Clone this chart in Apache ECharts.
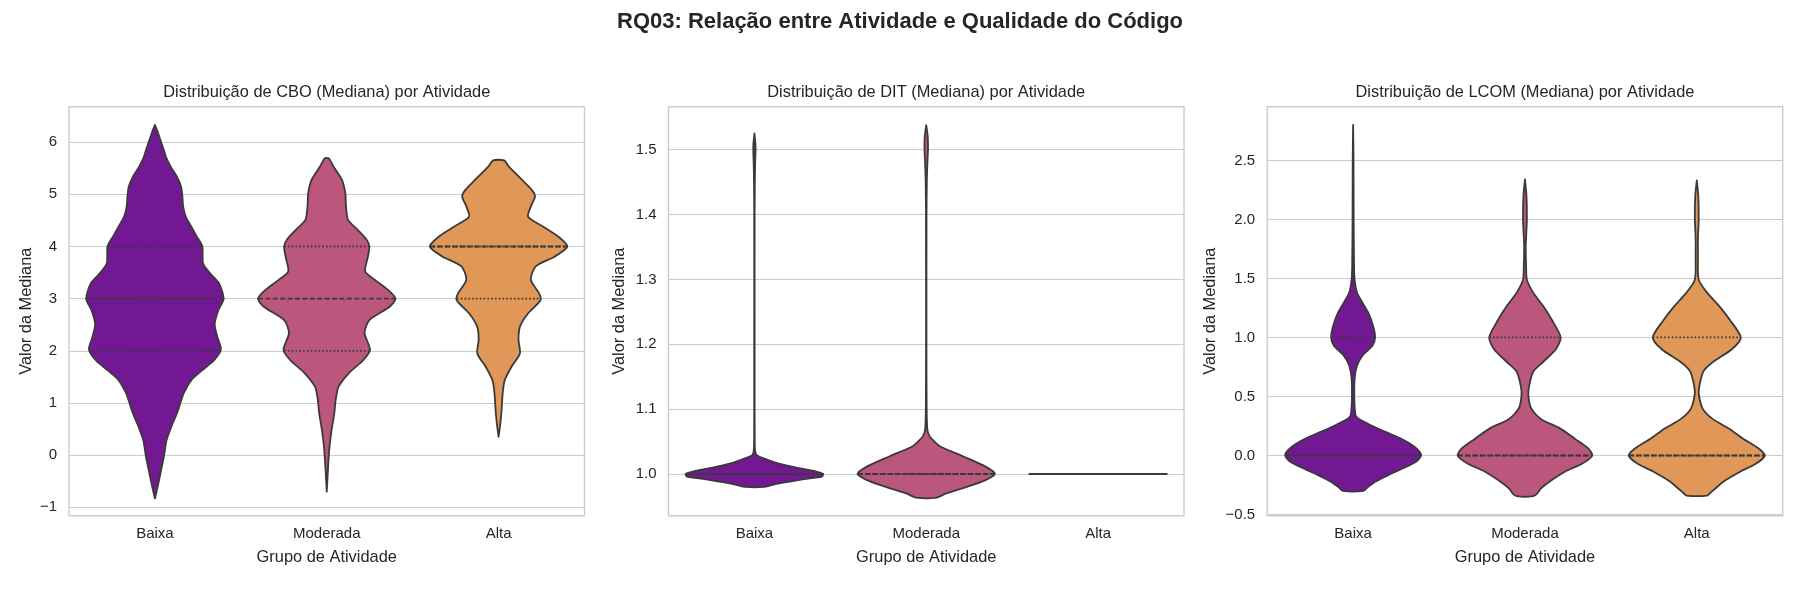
<!DOCTYPE html>
<html>
<head>
<meta charset="utf-8">
<script src="https://cdn.jsdelivr.net/npm/echarts@6/dist/echarts.min.js"></script>
<style>html,body{margin:0;padding:0;background:#fff}#chart{width:1800px;height:600px}</style>
</head>
<body>
<div id="chart"></div>
<script>
// ---------------- DATA ----------------
const categories = ['Baixa', 'Moderada', 'Alta'];
const suptitleText = 'RQ03: Relação entre Atividade e Qualidade do Código';
const panelTitles = [
  'Distribuição de CBO (Mediana) por Atividade',
  'Distribuição de DIT (Mediana) por Atividade',
  'Distribuição de LCOM (Mediana) por Atividade'
];
const xAxisName = 'Grupo de Atividade';
const yAxisName = 'Valor da Mediana';

// Violin outlines: y values (top to bottom) and relative density (1 = widest violin)
const cboBaixaY = [6.33, 6.2, 6.04, 5.85, 5.72, 5.53, 5.34, 5.15, 4.96, 4.77, 4.57, 4.38, 4.19, 4.0, 3.68, 3.49, 3.30, 3.0, 2.77, 2.51, 2.26, 2.03, 1.82, 1.63, 1.44, 1.19, 1.0, 0.80, 0.55, 0.29, -0.03, -0.35, -0.60, -0.83];
const cboBaixaW = [0, 0.04, 0.08, 0.13, 0.16, 0.23, 0.32, 0.38, 0.40, 0.41, 0.45, 0.53, 0.61, 0.69, 0.70, 0.80, 0.93, 1.0, 0.92, 0.87, 0.91, 0.96, 0.86, 0.69, 0.53, 0.42, 0.37, 0.32, 0.24, 0.17, 0.13, 0.08, 0.04, 0];
const cboModeradaY = [5.69, 5.53, 5.28, 5.02, 4.77, 4.51, 4.32, 4.13, 4.0, 3.81, 3.52, 3.36, 3.17, 3.0, 2.85, 2.59, 2.34, 2.02, 1.82, 1.57, 1.31, 1.06, 0.80, 0.48, 0.16, -0.22, -0.70];
const cboModeradaW = [0.03, 0.10, 0.22, 0.27, 0.28, 0.31, 0.45, 0.58, 0.62, 0.60, 0.56, 0.70, 0.89, 1.0, 0.92, 0.62, 0.55, 0.63, 0.53, 0.32, 0.17, 0.13, 0.11, 0.07, 0.04, 0.02, 0];
const cboAltaY = [5.65, 5.53, 5.28, 5.09, 4.96, 4.77, 4.57, 4.38, 4.19, 4.0, 3.81, 3.62, 3.36, 3.10, 2.97, 2.72, 2.46, 2.21, 1.95, 1.70, 1.44, 1.19, 0.80, 0.55, 0.35];
const cboAltaW = [0.08, 0.15, 0.34, 0.48, 0.53, 0.47, 0.43, 0.65, 0.87, 1.0, 0.82, 0.54, 0.47, 0.59, 0.61, 0.43, 0.31, 0.29, 0.31, 0.19, 0.09, 0.06, 0.04, 0.02, 0];

const ditBaixaY = [1.525, 1.51, 1.50, 1.48, 1.45, 1.40, 1.20, 1.06, 1.035, 1.028, 1.022, 1.016, 1.010, 1.005, 1.0, 0.996, 0.992, 0.987, 0.983, 0.980];
const ditBaixaW = [0, 0.014, 0.017, 0.011, 0.006, 0.003, 0.003, 0.004, 0.011, 0.044, 0.19, 0.36, 0.61, 0.86, 1.0, 0.98, 0.72, 0.44, 0.25, 0.14];
const ditModeradaY = [1.538, 1.52, 1.50, 1.48, 1.45, 1.40, 1.20, 1.10, 1.068, 1.058, 1.050, 1.042, 1.027, 1.011, 1.0, 0.991, 0.980, 0.970, 0.9635];
const ditModeradaW = [0, 0.022, 0.025, 0.017, 0.008, 0.004, 0.003, 0.006, 0.017, 0.05, 0.12, 0.21, 0.54, 0.87, 1.0, 0.87, 0.59, 0.29, 0.15];
const ditAltaY = [1.0];
const ditAltaW = [1.0];

const lcomBaixaY = [2.80, 2.5, 2.0, 1.6, 1.49, 1.38, 1.29, 1.21, 1.10, 1.0, 0.93, 0.85, 0.76, 0.65, 0.48, 0.37, 0.33, 0.30, 0.25, 0.20, 0.15, 0.10, 0.05, 0.0, -0.05, -0.11, -0.17, -0.22, -0.27, -0.30];
const lcomBaixaW = [0, 0.006, 0.008, 0.014, 0.022, 0.056, 0.14, 0.22, 0.29, 0.32, 0.28, 0.14, 0.056, 0.022, 0.017, 0.028, 0.044, 0.11, 0.28, 0.47, 0.67, 0.83, 0.94, 0.99, 0.92, 0.72, 0.5, 0.33, 0.21, 0.15];
const lcomModeradaY = [2.34, 2.2, 2.0, 1.85, 1.77, 1.60, 1.49, 1.38, 1.27, 1.15, 1.0, 0.90, 0.79, 0.71, 0.59, 0.51, 0.40, 0.31, 0.23, 0.14, 0.06, 0.0, -0.07, -0.137, -0.22, -0.28, -0.32, -0.345];
const lcomModeradaW = [0, 0.022, 0.028, 0.017, 0.011, 0.017, 0.028, 0.12, 0.26, 0.39, 0.52, 0.45, 0.26, 0.12, 0.061, 0.05, 0.089, 0.23, 0.51, 0.73, 0.92, 0.98, 0.83, 0.58, 0.36, 0.23, 0.18, 0.12];
const lcomAltaY = [2.33, 2.2, 2.0, 1.85, 1.7, 1.49, 1.38, 1.27, 1.15, 1.0, 0.90, 0.79, 0.71, 0.54, 0.40, 0.31, 0.23, 0.14, 0.06, 0.0, -0.07, -0.137, -0.22, -0.28, -0.32, -0.34];
const lcomAltaW = [0, 0.022, 0.028, 0.017, 0.017, 0.028, 0.15, 0.32, 0.48, 0.64, 0.51, 0.23, 0.094, 0.028, 0.083, 0.23, 0.46, 0.68, 0.9, 0.99, 0.86, 0.63, 0.39, 0.27, 0.19, 0.15];

// Quartiles [Q1, median, Q3] per category
const cboQuartiles = [[2, 3, 4], [2, 3, 4], [3, 4, 4]];
const ditQuartiles = [[1, 1, 1], [1, 1, 1], [1, 1, 1]];
const lcomQuartiles = [[0, 0, 1], [0, 0, 1], [0, 0, 1]];

// y-axis ranges
const cboRange = [-1.16, 6.68];
const ditRange = [0.9357, 1.5663];
const lcomRange = [-0.51, 2.955];

// ---------------- STYLE ----------------
const FONT = '"Liberation Sans", Arial, "DejaVu Sans", sans-serif';
const TEXT = '#262626';
const EDGE = '#3a3a3a';
const GRIDC = '#cccccc';
const PALETTE = ['#731893', '#bb577c', '#e19757'];

const cboProfiles = [{y: cboBaixaY, w: cboBaixaW}, {y: cboModeradaY, w: cboModeradaW}, {y: cboAltaY, w: cboAltaW}];
const ditProfiles = [{y: ditBaixaY, w: ditBaixaW}, {y: ditModeradaY, w: ditModeradaW}, {y: ditAltaY, w: ditAltaW}];
const lcomProfiles = [{y: lcomBaixaY, w: lcomBaixaW}, {y: lcomModeradaY, w: lcomModeradaW}, {y: lcomAltaY, w: lcomAltaW}];

function widthAt(p, v) {
  if (p.y.length === 1) return p.w[0];
  for (let k = 0; k < p.y.length - 1; k++) {
    const a = p.y[k], b = p.y[k + 1];
    if (v <= a && v >= b) {
      const t = a === b ? 0 : (a - v) / (a - b);
      return p.w[k] + (p.w[k + 1] - p.w[k]) * t;
    }
  }
  return 0;
}

function makeRender(profiles, quarts) {
  return function (params, api) {
    const i = api.value(0);
    const p = profiles[i];
    const band = api.size([1, 0])[0];
    const maxHalf = 0.4 * band;
    const right = [], left = [];
    for (let k = 0; k < p.y.length; k++) {
      const c = api.coord([i, p.y[k]]);
      right.push([c[0] + p.w[k] * maxHalf, c[1]]);
      left.push([c[0] - p.w[k] * maxHalf, c[1]]);
    }
    const pts = right.concat(left.reverse());
    const children = [{
      type: 'polygon',
      shape: {points: pts, smooth: 0.25},
      style: {fill: PALETTE[i], stroke: EDGE, lineWidth: 1.8, lineJoin: 'round'}
    }];
    quarts[i].forEach(function (v, k) {
      const hw = widthAt(p, v) * maxHalf;
      const c = api.coord([i, v]);
      children.push({
        type: 'line',
        shape: {x1: c[0] - hw, y1: c[1], x2: c[0] + hw, y2: c[1]},
        style: {stroke: EDGE, lineWidth: 1.8, lineDash: k === 1 ? [5, 2.4] : [1.6, 2.2]}
      });
    });
    return {type: 'group', children: children};
  };
}

function minus(s) { return s.replace('-', '\u2212'); }
function stepFormatter(step, digits) {
  return function (v) {
    const r = v / step;
    if (Math.abs(r - Math.round(r)) > 1e-6) return '';
    const val = Math.round(r) * step;
    return minus(val.toFixed(digits));
  };
}

const gridLefts = [69, 668.5, 1267.2];
const gridWidth = 515.5;
const gridTop = 106.7;
const gridHeight = 409;

function yAxisCfg(idx, range, split, fmt, gap) {
  return {
    type: 'value', gridIndex: idx, min: range[0], max: range[1], splitNumber: split,
    name: yAxisName, nameLocation: 'middle', nameGap: gap,
    nameTextStyle: {fontSize: 16.4, color: TEXT, fontFamily: FONT},
    axisLine: {show: false}, axisTick: {show: false},
    axisLabel: {fontSize: 15, color: TEXT, fontFamily: FONT, margin: 12, formatter: fmt},
    splitLine: {show: true, lineStyle: {color: GRIDC, width: 1.1}}
  };
}
function xAxisCfg(idx) {
  return {
    type: 'category', gridIndex: idx, data: categories,
    name: xAxisName, nameLocation: 'middle', nameGap: 34,
    nameTextStyle: {fontSize: 16.4, color: TEXT, fontFamily: FONT},
    axisLine: {show: false}, axisTick: {show: false}, splitLine: {show: false},
    axisLabel: {fontSize: 15, color: TEXT, fontFamily: FONT, margin: 11}
  };
}

const chart = echarts.init(document.getElementById('chart'), null, {renderer: 'canvas'});
const option = {
  backgroundColor: '#ffffff',
  animation: false,
  title: [
    {text: suptitleText, left: 900, top: 11, textAlign: 'center', padding: 0,
      textStyle: {fontSize: 22, fontWeight: 'bold', color: TEXT, fontFamily: FONT}},
  ].concat(panelTitles.map(function (t, k) {
    return {text: t, left: gridLefts[k] + gridWidth / 2, top: 84, textAlign: 'center', padding: 0,
      textStyle: {fontSize: 16.4, fontWeight: 'normal', color: TEXT, fontFamily: FONT}};
  })),
  grid: gridLefts.map(function (l) {
    return {left: l, top: gridTop, width: gridWidth, height: gridHeight, show: true,
      borderColor: GRIDC, borderWidth: 1.4, backgroundColor: '#ffffff', containLabel: false, outerBoundsMode: 'none'};
  }),
  xAxis: [xAxisCfg(0), xAxisCfg(1), xAxisCfg(2)],
  yAxis: [
    yAxisCfg(0, cboRange, 8, stepFormatter(1, 0), 35),
    yAxisCfg(1, ditRange, 6, stepFormatter(0.1, 1), 41),
    yAxisCfg(2, lcomRange, 7, stepFormatter(0.5, 1), 49)
  ],
  series: [
    {type: 'custom', xAxisIndex: 0, yAxisIndex: 0, renderItem: makeRender(cboProfiles, cboQuartiles),
      data: categories.map(function (c, i) { return [i, cboQuartiles[i][1]]; })},
    {type: 'custom', xAxisIndex: 1, yAxisIndex: 1, renderItem: makeRender(ditProfiles, ditQuartiles),
      data: categories.map(function (c, i) { return [i, ditQuartiles[i][1]]; })},
    {type: 'custom', xAxisIndex: 2, yAxisIndex: 2, renderItem: makeRender(lcomProfiles, lcomQuartiles),
      data: categories.map(function (c, i) { return [i, lcomQuartiles[i][1]]; })}
  ]
};
chart.setOption(option);
</script>
</body>
</html>
